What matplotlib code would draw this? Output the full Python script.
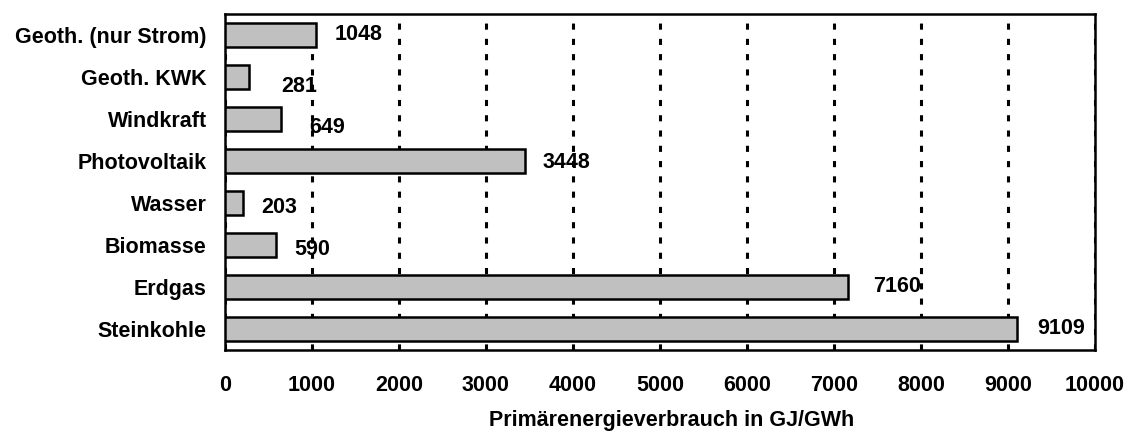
import numpy as np
import matplotlib.pyplot as plt

plt.rcParams['font.family'] = ['Liberation Sans', 'DejaVu Sans']
plt.rcParams['font.weight'] = 'bold'

categories = ["Geoth. (nur Strom)", "Geoth. KWK", "Windkraft", "Photovoltaik",
              "Wasser", "Biomasse", "Erdgas", "Steinkohle"]
values = [1048, 281, 649, 3448, 203, 590, 7160, 9109]
x_ticks = [0, 1000, 2000, 3000, 4000, 5000, 6000, 7000, 8000, 9000, 10000]

# label nudges in pixels (dx, dy), as placed in the original
label_nudge = [(19, 0), (32, -10), (28, -9), (18, -2),
               (19, -5), (18, -5), (25, 0), (20, 0)]

fig = plt.figure(figsize=(11.3, 4.33), dpi=100)
ax = fig.add_axes([0.199, 0.192, 0.770, 0.776])

y = np.arange(len(categories))[::-1]
ax.barh(y, values, height=0.57, color="#c0c0c0", edgecolor="black",
        linewidth=1.8, zorder=3)

for yi, v, (dx, dy) in zip(y, values, label_nudge):
    ax.annotate(str(v), xy=(v, yi), xytext=(dx * 0.72, dy * 0.72),
                textcoords="offset points", ha="left", va="center",
                fontsize=15.5, fontweight="bold", zorder=4)

ax.set_xlim(0, 10000)
ax.set_ylim(-0.5, len(categories) - 0.5)
ax.set_xticks(x_ticks)
ax.set_yticks(y)
ax.set_yticklabels(categories)
ax.tick_params(axis="both", length=0, labelsize=15.5)
ax.tick_params(axis="x", pad=18)
ax.tick_params(axis="y", pad=13)
ax.xaxis.grid(True, color="black", linestyle=(0, (2.0, 3.0)), linewidth=2.2, zorder=1)
ax.set_axisbelow(True)
for s in ax.spines.values():
    s.set_linewidth(1.8)
ax.set_xlabel("Primärenergieverbrauch in GJ/GWh", fontsize=15.5, fontweight="bold")
ax.xaxis.set_label_coords(0.514, -0.18)

fig.savefig("out.png", dpi=100)
